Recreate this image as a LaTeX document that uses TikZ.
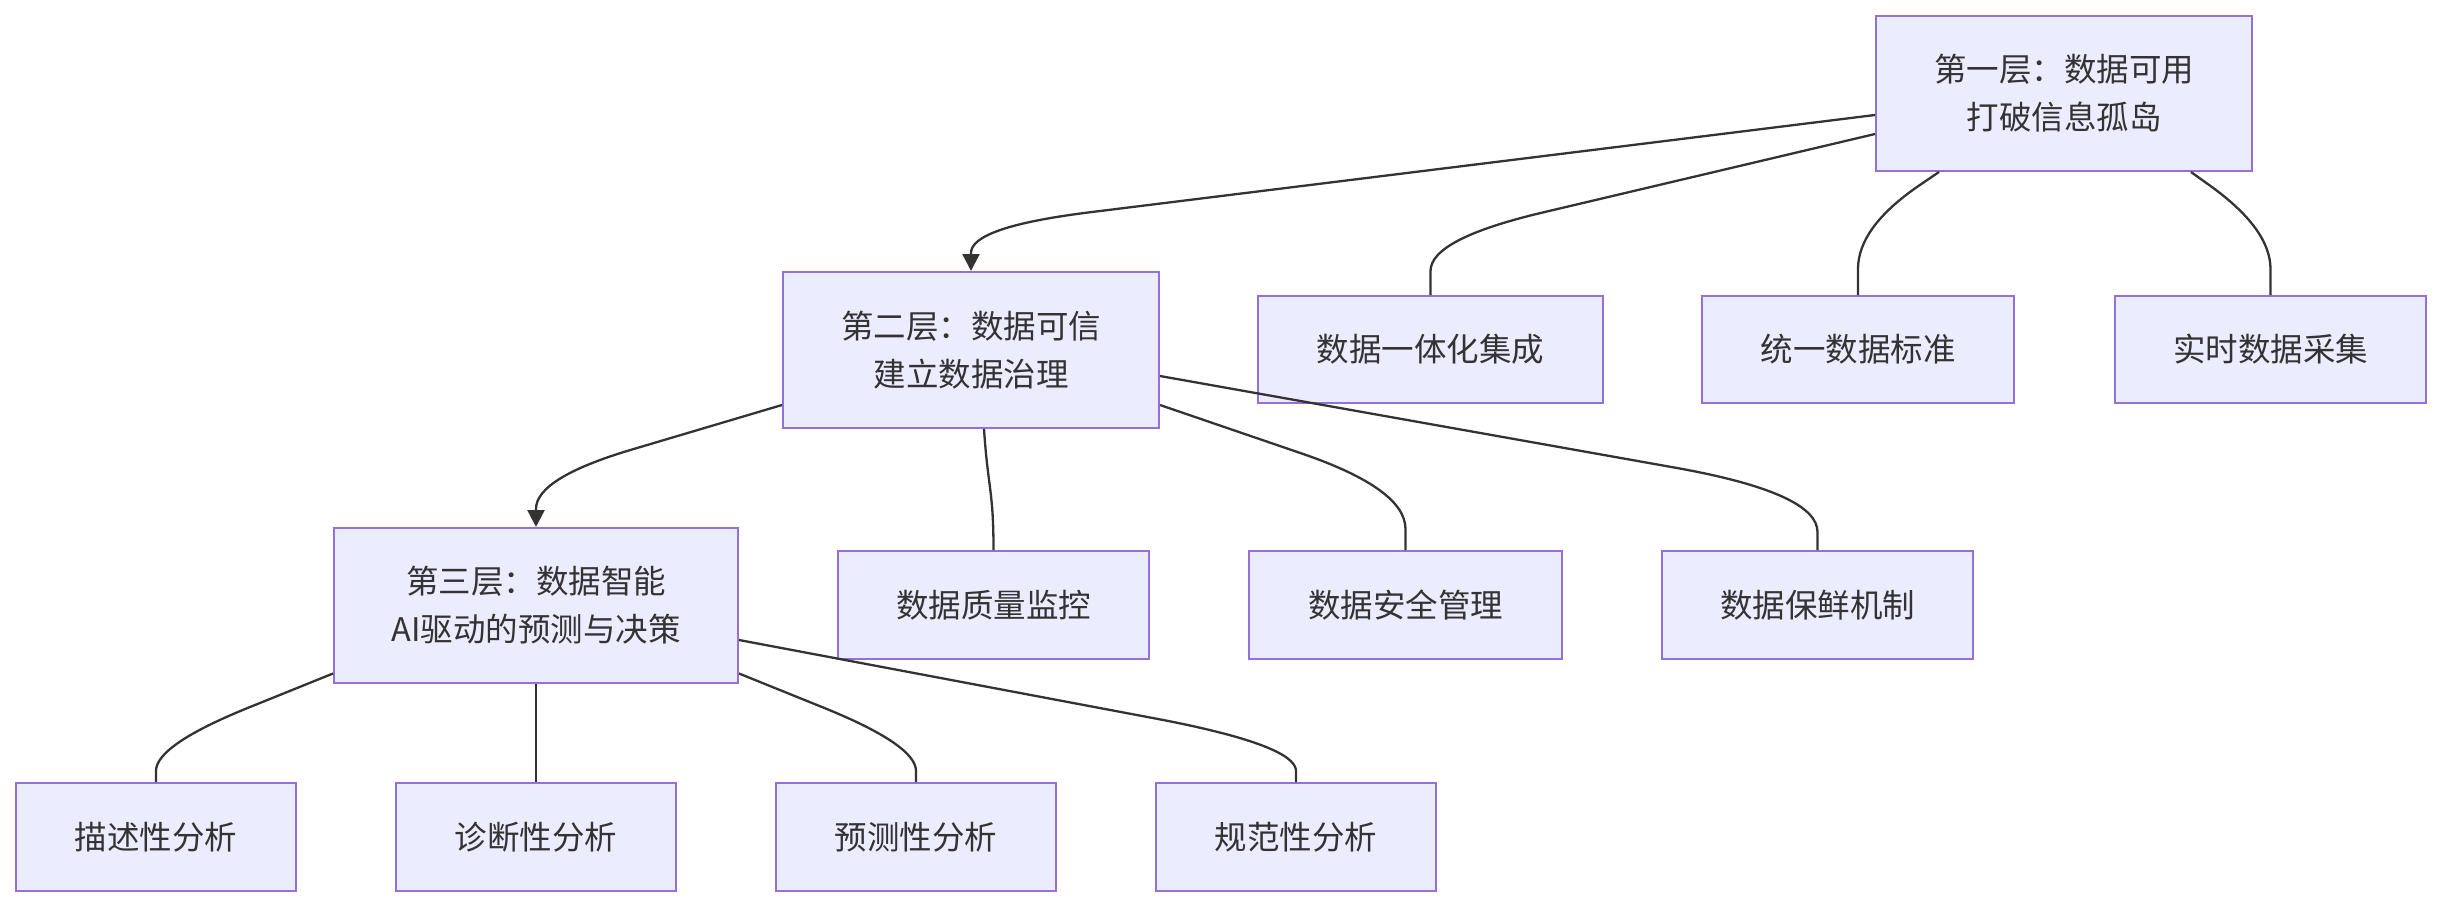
\documentclass[tikz,border=0pt]{standalone}
\usepackage{fontspec}
\setmainfont{Noto Sans CJK SC}
\usetikzlibrary{calc,arrows.meta}
\definecolor{boxfill}{HTML}{ECECFF}
\definecolor{boxline}{HTML}{9370DB}
\definecolor{edgecol}{HTML}{333333}
\definecolor{txtcol}{HTML}{333333}
\tikzset{
  box/.style={draw=boxline, fill=boxfill, line width=2pt, inner sep=0pt,
    text=txtcol, align=center, font=\fontsize{32.5}{48}\selectfont},
  conn/.style={draw=edgecol, line width=2.3pt},
  arr/.style={-{Triangle[length=17pt,width=17pt]}},
}
% #1 start, #2 corner, #3 end, #4 r1, #5 r2, #6 options
\newcommand\mbend[6]{%
  \draw[conn,#6] (#1) -- ($(#2)!#4pt!(#1)$)
    .. controls ($(#2)!#4pt/3!(#1)$) and ($(#2)!#5pt/3!(#3)$) ..
    ($(#2)!#5pt!(#3)$) -- (#3);}
\begin{document}
\begin{tikzpicture}[x=1pt,y=-1pt]
\useasboundingbox (0,0) rectangle (2442,908);
% layer nodes
\node[box, minimum width=376pt, minimum height=155pt] (l1) at (2064,93.5) {第一层：数据可用\\打破信息孤岛};
\node[box, minimum width=376pt, minimum height=156pt] (l2) at (971,350) {第二层：数据可信\\建立数据治理};
\node[box, minimum width=404pt, minimum height=155pt] (l3) at (536,605.5) {第三层：数据智能\\AI驱动的预测与决策};
% row 1 leaves
\node[box, minimum width=345pt, minimum height=107pt] (n11) at (1430.5,349.5) {数据一体化集成};
\node[box, minimum width=312pt, minimum height=107pt] (n12) at (1858,349.5) {统一数据标准};
\node[box, minimum width=311pt, minimum height=107pt] (n13) at (2270.5,349.5) {实时数据采集};
% row 2 leaves
\node[box, minimum width=311pt, minimum height=108pt] (n21) at (993.5,605) {数据质量监控};
\node[box, minimum width=313pt, minimum height=108pt] (n22) at (1405.5,605) {数据安全管理};
\node[box, minimum width=311pt, minimum height=108pt] (n23) at (1817.5,605) {数据保鲜机制};
% row 3 leaves
\node[box, minimum width=280pt, minimum height=108pt] (n31) at (156,837) {描述性分析};
\node[box, minimum width=280pt, minimum height=108pt] (n32) at (536,837) {诊断性分析};
\node[box, minimum width=280pt, minimum height=108pt] (n33) at (916,837) {预测性分析};
\node[box, minimum width=280pt, minimum height=108pt] (n34) at (1296,837) {规范性分析};

% ---- edges from layer 1
\coordinate (s1) at ($(l1.west)+(0,21.5)$);
\coordinate (k1) at ($(l2.north)+(0,-44)$);
\mbend{s1}{k1}{l2.north}{120}{26}{arr}

\coordinate (s2) at ($(l1.west)+(0,40.5)$);
\coordinate (k2) at ($(n11.north)+(0,-56)$);
\mbend{s2}{k2}{n11.north}{115}{32}{}

\coordinate (s3) at ($(l1.south)+(-125,0)$);
\coordinate (k3) at ($(n12.north)+(0,-68)$);
\mbend{s3}{k3}{n12.north}{75}{42}{}

\coordinate (s4) at ($(l1.south)+(127,0)$);
\coordinate (k4) at ($(n13.north)+(0,-66)$);
\mbend{s4}{k4}{n13.north}{75}{40}{}

% ---- edges from layer 2
\coordinate (s5) at ($(l2.west)+(0,55)$);
\coordinate (k5) at ($(l3.north)+(0,-49)$);
\mbend{s5}{k5}{l3.north}{100}{31}{arr}

\coordinate (s6) at ($(l2.south)+(13,0)$);
\draw[conn] (s6) .. controls ($(s6)+(4,60)$) and ($(n21.north)+(0,-60)$) .. (n21.north);

\coordinate (s7) at ($(l2.east)+(0,55)$);
\coordinate (k7) at ($(n22.north)+(0,-61)$);
\mbend{s7}{k7}{n22.north}{110}{40}{}

\coordinate (s8) at ($(l2.east)+(0,26)$);
\coordinate (k8) at ($(n23.north)+(0,-57)$);
\mbend{s8}{k8}{n23.north}{145}{39}{}

% ---- edges from layer 3
\coordinate (s9) at ($(l3.west)+(0,68)$);
\coordinate (k9) at ($(n31.north)+(0,-37)$);
\mbend{s9}{k9}{n31.north}{100}{26}{}

\draw[conn] (l3.south) -- (n32.north);

\coordinate (s11) at ($(l3.east)+(0,68)$);
\coordinate (k11) at ($(n33.north)+(0,-37)$);
\mbend{s11}{k11}{n33.north}{100}{26}{}

\coordinate (s12) at ($(l3.east)+(0,34.5)$);
\coordinate (k12) at ($(n34.north)+(0,-37)$);
\mbend{s12}{k12}{n34.north}{145}{26}{}
\end{tikzpicture}
\end{document}
